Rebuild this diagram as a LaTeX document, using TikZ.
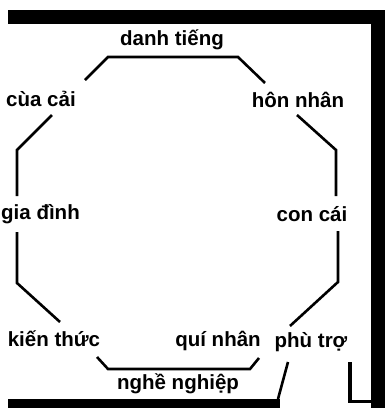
\documentclass[tikz,border=0pt]{standalone}
\usepackage{fontspec}
\setmainfont{Liberation Sans}
\usepackage{tikz}

\tikzset{
  area/.style={inner sep=1pt, font=\fontsize{20.5}{24}\selectfont\bfseries},
  wall/.style={line width=2.6pt, line join=miter},
}

\begin{document}
\begin{tikzpicture}[x=1pt, y=-1pt]
                    \useasboundingbox[fill=white] (0,0) rectangle (386,408);
                    % Frame
                    \fill (8,10) rectangle (382,24);
                    \fill (371,10) rectangle (385,408);
                    \fill (8,399) rectangle (280,408);
                    \fill (348,362) rectangle (352,403);
                    \fill (348,400) rectangle (372,403);
                    % Nodes
                    \node[area] (danhtieng) at (172,40) {danh tiếng};
                    \node[area] (cuacai) at (41,99) {cùa cải};
                    \node[area] (honnhan) at (298,100) {hôn nhân};
                    \node[area, anchor=west] (giadinh) at (0,214) {gia đình};
                    \node[area] (concai) at (312,214) {con cái};
                    \node[area] (kienthuc) at (54,339) {kiến thức};
                    \node[area] (quinhan) at (218,341) {quí nhân};
                    \node[area] (phutro) at (311,342) {phù trợ};
                    \node[area] (nghenghiep) at (178,384) {nghề nghiệp};
                    % Corners
                    \coordinate (c1) at (85,80);
                    \coordinate (c2) at (108,57);
                    \coordinate (c3) at (238,57);
                    \coordinate (c4) at (265,83);
                    \coordinate (c5) at (52,115);
                    \coordinate (c6) at (17,150);
                    \coordinate (c7) at (17,196);
                    \coordinate (c8) at (17,232);
                    \coordinate (c9) at (17,283);
                    \coordinate (c10) at (60,322);
                    \coordinate (c11) at (97,357);
                    \coordinate (c12) at (108,369);
                    \coordinate (c13) at (250,369);
                    \coordinate (c14) at (259,358);
                    \coordinate (c15) at (297,115);
                    \coordinate (c16) at (336,150);
                    \coordinate (c17) at (336,196);
                    \coordinate (c18) at (338,231);
                    \coordinate (c19) at (338,282);
                    \coordinate (c20) at (290,326);
                    \coordinate (c21) at (288,362);
                    \coordinate (c22) at (278,399);
                    % Edges
                    \draw[wall] (c1) -- (c2) -- (c3) -- (c4);
                    \draw[wall] (c5) -- (c6) -- (c7);
                    \draw[wall] (c8) -- (c9) -- (c10);
                    \draw[wall] (c11) -- (c12) -- (c13) -- (c14);
                    \draw[wall] (c15) -- (c16) -- (c17);
                    \draw[wall] (c18) -- (c19) -- (c20);
                    \draw[wall] (c21) -- (c22);
                \end{tikzpicture}
\end{document}
